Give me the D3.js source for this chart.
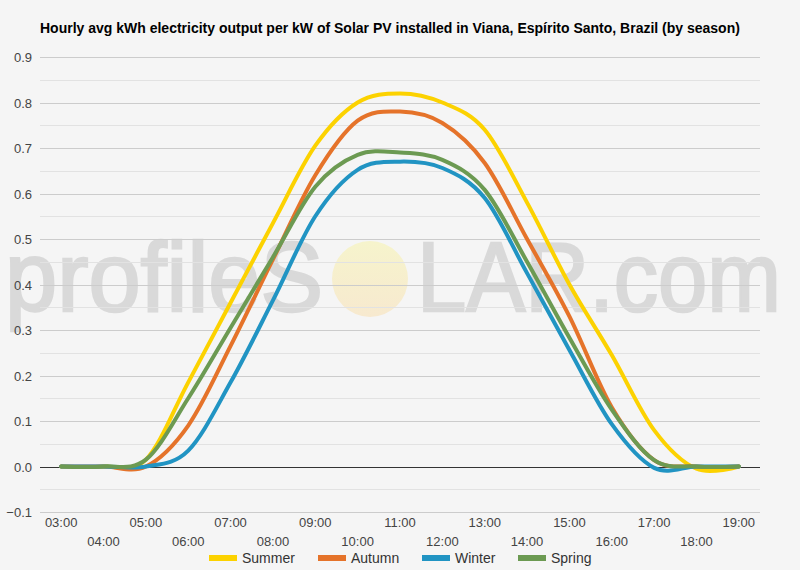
<!DOCTYPE html>
<html>
<head>
<meta charset="utf-8">
<script src="https://cdn.jsdelivr.net/npm/d3@7"></script>
<style>
  body { margin: 0; background: #f5f5f5; }
  svg { display: block; font-family: Arial, "Liberation Sans", sans-serif; }
</style>
</head>
<body>
<div id="chart"></div>
<script>
// hourly values
const hours = ["03:00", "04:00", "05:00", "06:00", "07:00", "08:00", "09:00", "10:00", "11:00",
  "12:00", "13:00", "14:00", "15:00", "16:00", "17:00", "18:00", "19:00"];
const summer = [0, 0, 0.015, 0.185, 0.36, 0.535, 0.705, 0.80, 0.82, 0.80, 0.74, 0.58, 0.40, 0.245, 0.08, -0.005, 0];
const autumn = [0, 0, 0, 0.09, 0.265, 0.455, 0.64, 0.76, 0.78, 0.755, 0.667, 0.50, 0.33, 0.13, 0.014, 0, 0];
const winter = [0, 0, 0, 0.035, 0.185, 0.365, 0.55, 0.652, 0.67, 0.656, 0.59, 0.425, 0.256, 0.093, -0.003, 0, 0];
const spring = [0, 0, 0.015, 0.15, 0.305, 0.46, 0.615, 0.685, 0.69, 0.674, 0.608, 0.45, 0.283, 0.125, 0.014, 0, 0];
const seasons = ["Summer", "Autumn", "Winter", "Spring"];
const colors = ["#fcd200", "#e5732a", "#2194c3", "#6c9a52"];
const yTicks = [-0.1, 0, 0.1, 0.2, 0.3, 0.4, 0.5, 0.6, 0.7, 0.8, 0.9];

const width = 800, height = 570;
const plot = {left: 40, right: 760, top: 57, bottom: 512};

const svg = d3.select("#chart").append("svg")
    .attr("width", width)
    .attr("height", height);

svg.append("rect").attr("width", width).attr("height", height).attr("fill", "#f5f5f5");

// title
svg.append("text")
    .attr("x", 40).attr("y", 33)
    .attr("font-size", 14).attr("font-weight", "bold").attr("fill", "#000")
    .text("Hourly avg kWh electricity output per kW of Solar PV installed in Viana, Espírito Santo, Brazil (by season)");

const x = d3.scalePoint().domain(hours).range([plot.left, plot.right]).padding(0.5);
const y = d3.scaleLinear().domain([-0.1, 0.9]).range([plot.bottom, plot.top]);

// watermark (behind the grid)
const defs = svg.append("defs");
const grad = defs.append("linearGradient").attr("id", "sun").attr("x1", 0).attr("y1", 0).attr("x2", 0).attr("y2", 1);
grad.append("stop").attr("offset", "0%").attr("stop-color", "#f6f4cc");
grad.append("stop").attr("offset", "100%").attr("stop-color", "#f7e9cf");

const wm = svg.append("g").attr("pointer-events", "none");
wm.append("text")
    .attr("x", 5).attr("y", 311)
    .attr("font-size", 98).attr("fill", "#d9d9d9")
    .attr("stroke", "#d9d9d9").attr("stroke-width", 2.5)
    .attr("textLength", 318).attr("lengthAdjust", "spacingAndGlyphs")
    .text("profileS");
wm.append("ellipse")
    .attr("cx", 370).attr("cy", 279).attr("rx", 38).attr("ry", 38)
    .attr("fill", "url(#sun)");
wm.append("text")
    .attr("x", 417).attr("y", 311)
    .attr("font-size", 98).attr("fill", "#d9d9d9")
    .attr("stroke", "#d9d9d9").attr("stroke-width", 2.5)
    .attr("textLength", 364).attr("lengthAdjust", "spacingAndGlyphs")
    .text("LAR.com");

// minor gridlines every 0.05
const minor = d3.range(-0.05, 0.9, 0.1);
svg.append("g").selectAll("line").data(minor).enter().append("line")
    .attr("x1", plot.left).attr("x2", plot.right)
    .attr("y1", d => Math.round(y(d)) + 0.5).attr("y2", d => Math.round(y(d)) + 0.5)
    .attr("stroke", "#e2e2e2");

// major gridlines + labels
const yAxis = svg.append("g");
yAxis.selectAll("line").data(yTicks).enter().append("line")
    .attr("x1", plot.left).attr("x2", plot.right)
    .attr("y1", d => Math.round(y(d)) + 0.5).attr("y2", d => Math.round(y(d)) + 0.5)
    .attr("stroke", d => d === 0 ? "#333" : "#cccccc");
yAxis.selectAll("text").data(yTicks).enter().append("text")
    .attr("x", 32).attr("y", d => y(d) + 5)
    .attr("text-anchor", "end").attr("font-size", 13).attr("fill", "#444")
    .text(d => d3.format(".1f")(d));

// x labels, two staggered rows
svg.append("g").selectAll("text").data(hours).enter().append("text")
    .attr("x", d => x(d))
    .attr("y", (d, i) => i % 2 === 0 ? 527 : 546)
    .attr("text-anchor", "middle").attr("font-size", 13).attr("fill", "#444")
    .text(d => d);

// lines
const series = [summer, autumn, winter, spring];
const line = d3.line()
    .x((d, i) => x(hours[i]))
    .y(d => y(d))
    .curve(d3.curveCardinal.tension(0));

svg.append("g").selectAll("path").data(series).enter().append("path")
    .attr("d", line)
    .attr("fill", "none")
    .attr("stroke", (d, i) => colors[i])
    .attr("stroke-width", 4)
    .attr("stroke-linejoin", "round")
    .attr("stroke-linecap", "round");

// legend
const legendX = [209, 318, 422, 518];
const legend = svg.append("g").selectAll("g").data(seasons).enter().append("g")
    .attr("transform", (d, i) => `translate(${legendX[i]}, 558)`);
legend.append("rect")
    .attr("x", 0).attr("y", -3).attr("width", 28).attr("height", 6)
    .attr("fill", (d, i) => colors[i]);
legend.append("text")
    .attr("x", 33).attr("y", 5)
    .attr("font-size", 14).attr("fill", "#333")
    .text(d => d);
</script>
</body>
</html>
